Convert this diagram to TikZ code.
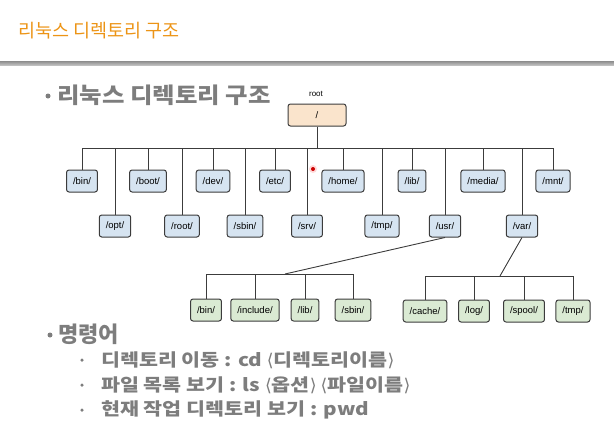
\documentclass[tikz,border=0pt]{standalone}
\usepackage{fontspec}
\setmainfont{Liberation Sans}
\newfontfamily\kr{Noto Sans CJK KR}
\newfontfamily\krw[FakeStretch=1.11]{Noto Sans CJK KR}
\newfontfamily\krs[FakeStretch=1.18]{Noto Sans CJK KR}
\newfontfamily\brk{DejaVu Sans}
\newcommand{\ang}[1]{{\brk\mdseries⟨}#1{\brk\mdseries⟩}}
\usetikzlibrary{positioning,calc}
\definecolor{dirblue}{RGB}{214,228,241}
\definecolor{dirgreen}{RGB}{218,234,211}
\definecolor{dirpeach}{RGB}{250,228,204}
\definecolor{dirframe}{RGB}{60,60,60}
\definecolor{slidegray}{RGB}{125,125,125}
\definecolor{titleorange}{RGB}{236,148,22}

\begin{document}
\begin{tikzpicture}[x=1pt,y=-1pt,
  dir/.style={draw=dirframe,line width=1pt,rounded corners=2.5pt,fill=dirblue,
    minimum height=22pt,inner xsep=6.5pt,font=\fontsize{9.5}{10}\selectfont},
  sub/.style={dir,fill=dirgreen},
  link/.style={draw=dirframe,line width=0.9pt},
  bul/.style={anchor=west,text=slidegray,inner sep=0pt},
  dot/.style={circle,fill=slidegray,inner sep=0pt,minimum size=#1},
]
\useasboundingbox (0,0) rectangle (614,431);

% ---- title and bar ----
\node[anchor=west,inner sep=0pt,text=titleorange,font=\kr\fontsize{18.5}{18.5}\selectfont]
  (title) at (18,31) {리눅스 디렉토리 구조};
\fill[top color=black!45,bottom color=black!25] (0,61) rectangle (614,65);

\node[dot=5pt] (b0) at (48,96) {};
\node[bul,font=\krw\bfseries\fontsize{22}{22}\selectfont] (head) at (57,95)
  {리눅스 디렉토리 구조};

% ---- root ----
\node[font=\fontsize{8}{8}\selectfont] (rootlbl) at (316,94) {root};
\node[dir,fill=dirpeach,minimum width=58pt] (slash) at (317,115) {/};
\coordinate (bus) at (317,148);
\draw[link] (slash) -- (bus);

% ---- first level ----
\foreach \n/\x in {bin/82,boot/148,dev/213,etc/275,home/343,lib/412,media/483,mnt/553}{
  \node[dir] (\n) at (\x,181) {/\n/};
  \draw[link] (\n.north) |- (bus);
}
\foreach \n/\x in {opt/115,root/182,sbin/245,srv/307,tmp/382,usr/445,var/522}{
  \node[dir] (\n) at (\x,226) {/\n/};
  \draw[link] (\n.north) |- (bus);
}

% ---- /usr/ ----
\coordinate (usrbus) at (285,274);
\draw[link] (usr.south) -- (usrbus);
\foreach \n/\x in {bin/206,include/255,lib/305,sbin/353}{
  \node[sub] (U\n) at (\x,310) {/\n/};
  \draw[link] (U\n.north) |- (usrbus);
}

% ---- /var/ ----
\coordinate (varbus) at (500,276);
\draw[link] (var.south) -- (varbus);
\foreach \n/\x in {cache/425,log/474,spool/524,tmp/573}{
  \node[sub] (V\n) at (\x,311) {/\n/};
  \draw[link] (V\n.north) |- (varbus);
}

% pointer mark
\fill[red!15] (313,169) circle (4);
\fill[red!80!black] (313,169) circle (2);

% ---- commands ----
\node[dot=5pt] (b1) at (50,335) {};
\node[bul,font=\kr\bfseries\fontsize{22}{22}\selectfont] (cmd) at (58,334) {명령어};
\foreach \i/\y in {1/360,2/385,3/410}
  \node[dot=3.5pt] (s\i) at (82,\y) {};
\node[bul,font=\krs\bfseries\fontsize{17.5}{17.5}\selectfont] (cmd1) at (101,360)
  {디렉토리 이동 : cd \ang{디렉토리이름}};
\node[bul,font=\krs\bfseries\fontsize{17.5}{17.5}\selectfont] (cmd2) at (101,385)
  {파일 목록 보기 : ls \ang{옵션}\hspace{4pt}\ang{파일이름}};
\node[bul,font=\krs\bfseries\fontsize{17.5}{17.5}\selectfont] (cmd3) at (101,410)
  {현재 작업 디렉토리 보기 : pwd};
\end{tikzpicture}
\end{document}
